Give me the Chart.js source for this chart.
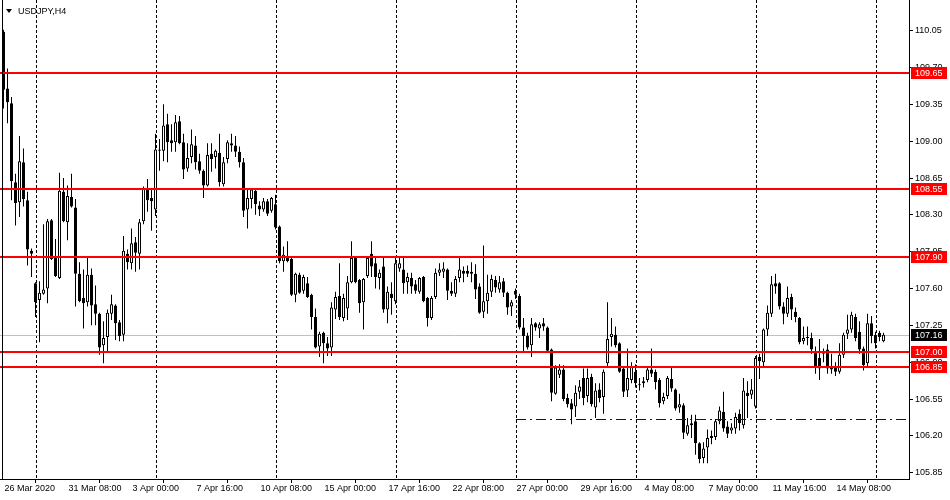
<!DOCTYPE html>
<html lang="en">
<head>
<meta charset="UTF-8">
<title>USDJPY,H4</title>
<script src="https://cdn.jsdelivr.net/npm/chart.js"></script>
<style>
  html, body { margin: 0; padding: 0; background: #ffffff; }
</style>
</head>
<body>
<canvas id="chartUsdJpy" width="950" height="500"></canvas>

<script>
  // H4 candles, one entry per bar (bar 0 = 26 Mar 16:00)
  const opens = [
    110.04,109.50,109.36,108.61,108.42,108.80,108.44,107.96,107.65,107.49,
    107.55,107.60,108.25,107.90,107.70,108.52,108.23,108.47,108.37,107.74,
    107.51,107.47,107.73,107.45,107.36,107.06,107.14,107.36,107.44,107.28,
    107.16,107.93,107.84,108.04,107.93,108.24,108.55,108.46,108.35,108.91,
    108.91,109.16,109.01,108.99,109.19,108.99,108.74,108.85,108.96,108.81,
    108.72,108.58,108.88,108.85,108.89,108.59,108.83,108.98,108.96,108.90,
    108.80,108.35,108.45,108.53,108.39,108.35,108.43,108.34,108.40,108.19,
    107.86,107.90,107.88,107.54,107.73,107.58,107.65,107.54,107.33,107.05,
    107.18,107.08,107.04,107.40,107.53,107.32,107.41,107.66,107.89,107.68,
    107.47,107.72,107.93,107.84,107.70,107.81,107.40,107.55,107.48,107.79,
    107.78,107.66,107.70,107.64,107.57,107.71,107.51,107.32,107.52,107.75,
    107.76,107.78,107.58,107.55,107.70,107.77,107.77,107.76,107.74,107.62,
    107.38,107.48,107.57,107.68,107.59,107.67,107.56,107.43,107.58,107.53,
    107.23,107.15,107.06,107.27,107.22,107.27,107.23,107.02,106.60,106.78,
    106.83,106.56,106.51,106.48,106.62,106.75,106.58,106.76,106.47,106.64,
    106.57,106.89,107.14,107.16,107.08,106.84,106.63,106.73,106.81,106.68,
    106.70,106.73,106.83,106.81,106.73,106.53,106.58,106.74,106.64,106.47,
    106.49,106.22,106.32,106.34,106.13,105.99,106.09,106.20,106.19,106.34,
    106.43,106.29,106.25,106.27,106.41,106.30,106.61,106.59,106.48,106.95,
    106.90,107.21,107.36,107.65,107.65,107.43,107.36,107.52,107.38,107.32,
    107.10,107.13,107.13,107.00,106.94,106.98,107.02,106.86,106.86,106.81,
    106.97,107.17,107.21,107.33,107.19,107.03,106.89,107.27,107.16,107.18,
    107.10
  ];
  const highs = [
    110.06,109.69,109.42,108.69,109.05,108.93,108.52,107.98,107.66,107.67,
    108.21,108.26,108.26,108.07,108.70,108.65,108.58,108.69,108.45,107.85,
    107.78,107.90,107.79,107.63,107.37,107.29,107.40,107.54,107.45,107.30,
    108.10,107.97,108.17,108.09,108.26,108.57,108.64,108.55,109.07,109.02,
    109.35,109.26,109.16,109.25,109.24,109.07,108.98,109.11,109.05,108.88,
    108.73,108.98,108.98,108.92,109.07,108.85,109.01,109.07,109.05,108.95,
    108.84,108.54,108.55,108.54,108.43,108.46,108.45,108.47,108.49,108.20,
    108.00,108.05,107.90,107.75,107.75,107.73,107.71,107.55,107.41,107.19,
    107.19,107.14,107.47,107.57,107.84,107.55,107.72,108.05,107.91,107.69,
    107.70,107.91,108.05,107.89,107.78,107.89,107.62,107.66,107.89,107.89,
    107.89,107.75,107.75,107.68,107.71,107.72,107.52,107.53,107.79,107.84,
    107.85,107.79,107.66,107.72,107.90,107.81,107.82,107.85,107.83,107.65,
    108.01,107.73,107.73,107.72,107.72,107.70,107.57,107.49,107.60,107.55,
    107.32,107.18,107.32,107.28,107.28,107.32,107.24,107.03,106.87,106.88,
    106.87,106.60,106.55,106.68,106.73,106.84,106.84,106.79,106.70,106.70,
    106.83,107.47,107.32,107.24,107.09,106.86,107.03,106.90,106.88,106.75,
    106.76,106.86,107.03,106.83,106.75,106.61,106.77,106.86,106.65,106.60,
    106.51,106.37,106.40,106.40,106.14,106.14,106.26,106.25,106.36,106.48,
    106.62,106.34,106.32,106.42,106.45,106.75,106.72,106.74,106.96,106.98,
    107.22,107.44,107.72,107.74,107.66,107.47,107.62,107.55,107.42,107.33,
    107.24,107.24,107.18,107.05,107.12,107.03,107.07,106.98,106.90,107.08,
    107.18,107.35,107.38,107.36,107.29,107.05,107.36,107.34,107.19,107.20,
    107.18
  ];
  const lows = [
    109.31,109.17,108.44,108.20,108.28,108.38,107.82,107.71,107.33,107.09,
    107.54,107.46,107.87,107.71,107.69,108.23,108.06,108.37,107.43,107.47,
    107.22,107.43,107.25,107.25,106.97,106.89,107.00,107.30,107.11,107.10,
    107.10,107.78,107.78,107.76,107.78,108.21,108.33,108.15,108.29,108.72,
    108.81,108.80,108.90,108.90,108.97,108.64,108.71,108.79,108.73,108.69,
    108.46,108.57,108.71,108.74,108.57,108.57,108.79,108.90,108.85,108.75,
    108.28,108.17,108.36,108.30,108.29,108.33,108.29,108.32,108.16,107.84,
    107.76,107.85,107.53,107.47,107.55,107.55,107.51,107.21,107.03,106.95,
    106.89,106.96,106.96,107.31,107.30,107.29,107.30,107.65,107.65,107.37,
    107.21,107.70,107.71,107.60,107.59,107.37,107.27,107.35,107.45,107.76,
    107.55,107.55,107.55,107.55,107.55,107.47,107.24,107.30,107.50,107.72,
    107.70,107.49,107.53,107.52,107.66,107.66,107.71,107.66,107.50,107.36,
    107.32,107.36,107.52,107.56,107.56,107.52,107.35,107.34,107.50,107.21,
    107.00,107.02,106.95,107.20,107.13,107.20,107.00,106.53,106.59,106.75,
    106.53,106.47,106.31,106.38,106.55,106.49,106.52,106.48,106.37,106.52,
    106.41,106.85,107.05,107.04,106.80,106.57,106.57,106.70,106.66,106.63,
    106.66,106.71,106.76,106.64,106.47,106.50,106.55,106.62,106.44,106.42,
    106.17,106.20,106.18,106.02,105.94,105.94,105.94,106.12,106.16,106.31,
    106.24,106.18,106.22,106.22,106.25,106.27,106.37,106.55,106.46,106.74,
    106.86,107.15,107.33,107.55,107.40,107.26,107.33,107.30,107.28,107.07,
    107.07,107.06,106.98,106.79,106.73,106.90,106.79,106.79,106.77,106.79,
    106.94,107.12,107.18,107.10,106.98,106.82,106.85,107.08,107.03,107.10,
    107.09
  ];
  const closes = [
    109.49,109.37,108.62,108.41,108.81,108.45,107.97,107.93,107.47,107.56,
    107.59,108.24,107.88,107.72,108.53,108.24,108.48,108.38,107.74,107.48,
    107.46,107.73,107.44,107.36,107.04,107.13,107.37,107.45,107.27,107.15,
    107.96,107.85,108.03,107.94,108.23,108.55,108.44,108.43,108.92,108.92,
    109.15,108.99,108.98,109.18,108.98,108.73,108.84,108.97,108.80,108.72,
    108.58,108.87,108.83,108.91,108.61,108.80,108.99,108.96,108.90,108.80,
    108.34,108.46,108.54,108.40,108.35,108.43,108.31,108.46,108.18,107.86,
    107.92,107.86,107.54,107.74,107.56,107.71,107.52,107.33,107.04,107.17,
    107.08,107.03,107.42,107.52,107.33,107.51,107.66,107.89,107.66,107.46,
    107.69,107.89,107.81,107.71,107.75,107.40,107.57,107.51,107.84,107.84,
    107.65,107.71,107.62,107.58,107.70,107.48,107.32,107.51,107.75,107.78,
    107.79,107.58,107.55,107.69,107.78,107.74,107.74,107.74,107.59,107.37,
    107.48,107.56,107.69,107.61,107.66,107.56,107.42,107.47,107.54,107.23,
    107.15,107.04,107.26,107.23,107.26,107.24,107.01,106.61,106.85,106.83,
    106.55,106.50,106.45,106.61,106.67,106.56,106.75,106.50,106.63,106.56,
    106.81,107.12,107.17,107.06,106.81,106.62,106.75,106.86,106.70,106.68,
    106.72,106.83,106.79,106.71,106.51,106.57,106.75,106.65,106.46,106.50,
    106.23,106.30,106.30,106.13,105.98,106.08,106.18,106.18,106.34,106.44,
    106.27,106.22,106.28,106.38,106.32,106.63,106.58,106.64,106.94,106.91,
    107.21,107.37,107.64,107.62,107.43,107.36,107.51,107.40,107.33,107.09,
    107.13,107.14,107.02,106.86,106.84,107.00,106.84,106.83,106.81,106.97,
    107.16,107.21,107.35,107.13,107.02,106.87,107.27,107.15,107.08,107.14,
    107.16
  ];

  // time axis labels (bar index -> text)
  const timeLabelBars = [0, 16, 32, 48, 64, 80, 96, 112, 128, 144, 160, 176, 192, 208];
  const timeLabels = [
    '26 Mar 2020', '31 Mar 08:00', '3 Apr 00:00', '7 Apr 16:00', '10 Apr 08:00',
    '15 Apr 00:00', '17 Apr 16:00', '22 Apr 08:00', '27 Apr 00:00', '29 Apr 16:00',
    '4 May 08:00', '7 May 00:00', '11 May 16:00', '14 May 08:00'
  ];
  // weekly separators (bar index of Monday 00:00)
  const weekBars = [8, 38, 68, 98, 128, 158, 188, 218];

  const priceTicks = [110.05, 109.70, 109.35, 109.00, 108.65, 108.30, 107.95,
                      107.60, 107.25, 106.90, 106.55, 106.20, 105.85];
  const levelLines = [109.65, 108.55, 107.90, 107.00, 106.85];
  const bidPrice = 107.16;
  const dashLineStartBar = 128;
  const dashLinePrice = 106.36;

  const fontAxis = '9px "Liberation Sans", Arial, sans-serif';

  // build bar data from the arrays
  let bodies = [];
  let wicks = [];
  let bodyColors = [];
  for (let i = 0; i < opens.length; i++) {
    bodies.push({ x: i, y: [opens[i], closes[i]] });
    wicks.push({ x: i, y: [lows[i], highs[i]] });
    bodyColors.push(closes[i] >= opens[i] ? '#ffffff' : '#000000');
  }

  // grid, levels, price boxes and title
  const mtOverlay = {
    id: 'mtOverlay',
    beforeDatasetsDraw(chart) {
      const ctx = chart.ctx;
      const area = chart.chartArea;
      const x = chart.scales.x;
      const y = chart.scales.y;
      ctx.save();
      ctx.strokeStyle = '#000000';
      ctx.lineWidth = 1;
      ctx.setLineDash([3, 2]);
      weekBars.forEach(function (b) {
        const px = Math.round(x.getPixelForValue(b)) + 0.5;
        ctx.beginPath();
        ctx.moveTo(px, area.top);
        ctx.lineTo(px, area.bottom);
        ctx.stroke();
      });
      ctx.setLineDash([]);
      // bid line
      const by = Math.round(y.getPixelForValue(bidPrice)) + 0.5;
      ctx.strokeStyle = '#c0c0c0';
      ctx.beginPath();
      ctx.moveTo(area.left, by);
      ctx.lineTo(area.right, by);
      ctx.stroke();
      ctx.restore();
    },
    afterDatasetsDraw(chart) {
      const ctx = chart.ctx;
      const area = chart.chartArea;
      const x = chart.scales.x;
      const y = chart.scales.y;
      ctx.save();
      // red horizontal levels
      ctx.strokeStyle = '#ff0000';
      ctx.lineWidth = 2;
      levelLines.forEach(function (v) {
        const py = Math.round(y.getPixelForValue(v));
        ctx.beginPath();
        ctx.moveTo(area.left, py);
        ctx.lineTo(area.right, py);
        ctx.stroke();
      });
      // dash-dot line
      const dy = Math.round(y.getPixelForValue(dashLinePrice)) + 0.5;
      ctx.strokeStyle = '#0000c8';
      ctx.lineWidth = 1;
      ctx.setLineDash([10, 4, 2, 4]);
      ctx.beginPath();
      ctx.moveTo(Math.round(x.getPixelForValue(dashLineStartBar)), dy);
      ctx.lineTo(area.right, dy);
      ctx.stroke();
      ctx.setLineDash([]);
      // left frame
      ctx.strokeStyle = '#000000';
      ctx.beginPath();
      ctx.moveTo(2.5, area.bottom);
      ctx.lineTo(2.5, area.top);
      ctx.stroke();
      ctx.restore();
    },
    afterDraw(chart) {
      const ctx = chart.ctx;
      const area = chart.chartArea;
      const y = chart.scales.y;
      ctx.save();
      ctx.font = fontAxis;
      ctx.textBaseline = 'middle';
      ctx.textAlign = 'left';
      function priceBox(v, color) {
        const py = Math.round(y.getPixelForValue(v));
        ctx.fillStyle = color;
        ctx.fillRect(area.right + 2, py - 6, 36, 12);
        ctx.fillStyle = '#ffffff';
        ctx.fillText(v.toFixed(2), area.right + 6, py + 0.5);
      }
      levelLines.forEach(function (v) { priceBox(v, '#ff0000'); });
      priceBox(bidPrice, '#000000');

      // title with the small triangle
      ctx.fillStyle = '#000000';
      ctx.beginPath();
      ctx.moveTo(6, 9);
      ctx.lineTo(12, 9);
      ctx.lineTo(9, 13);
      ctx.closePath();
      ctx.fill();
      ctx.fillText('USDJPY,H4', 18, 12);
      ctx.restore();
    }
  };

  const config = {
    type: 'bar',
    data: {
      datasets: [
        {
          label: 'bodies',
          data: bodies,
          backgroundColor: bodyColors,
          borderColor: '#000000',
          borderWidth: 1,
          borderSkipped: false,
          barThickness: 3,
          minBarLength: 1,
          inflateAmount: 0,
          grouped: false,
          order: 0
        },
        {
          label: 'wicks',
          data: wicks,
          backgroundColor: '#000000',
          borderWidth: 0,
          barThickness: 1,
          inflateAmount: 0,
          grouped: false,
          order: 1
        }
      ]
    },
    options: {
      responsive: false,
      animation: false,
      devicePixelRatio: 1,
      layout: { padding: 0 },
      plugins: {
        legend: { display: false },
        tooltip: { enabled: false }
      },
      scales: {
        x: {
          type: 'linear',
          position: 'bottom',
          min: -0.875,
          max: 226.375,
          offset: false,
          afterBuildTicks: function (scale) {
            scale.ticks = timeLabelBars.map(function (b) { return { value: b }; });
          },
          afterFit: function (scale) {
            scale.height = 21;
            scale.paddingLeft = 0;
            scale.paddingRight = 0;
          },
          ticks: {
            autoSkip: false,
            maxRotation: 0,
            minRotation: 0,
            align: 'start',
            labelOffset: 1,
            padding: 0,
            color: '#000000',
            font: { family: '"Liberation Sans", Arial, sans-serif', size: 9 },
            callback: function (value) {
              const k = timeLabelBars.indexOf(value);
              return k >= 0 ? timeLabels[k] : '';
            }
          },
          grid: {
            drawOnChartArea: false,
            drawTicks: true,
            tickLength: 4,
            color: '#000000'
          },
          border: { display: true, color: '#000000' }
        },
        y: {
          type: 'linear',
          position: 'right',
          min: 105.7902,
          max: 110.3417,
          afterBuildTicks: function (scale) {
            scale.ticks = priceTicks.map(function (v) { return { value: v }; });
          },
          afterFit: function (scale) {
            scale.width = 41;
            scale.paddingTop = 0;
            scale.paddingBottom = 0;
          },
          ticks: {
            padding: 2,
            color: '#000000',
            font: { family: '"Liberation Sans", Arial, sans-serif', size: 9 },
            callback: function (value) { return Number(value).toFixed(2); }
          },
          grid: {
            drawOnChartArea: false,
            drawTicks: true,
            tickLength: 4,
            color: '#000000'
          },
          border: { display: true, color: '#000000' }
        }
      }
    },
    plugins: [mtOverlay]
  };

  let chartUsdJpy = new Chart(document.getElementById('chartUsdJpy'), config);
</script>
</body>
</html>
